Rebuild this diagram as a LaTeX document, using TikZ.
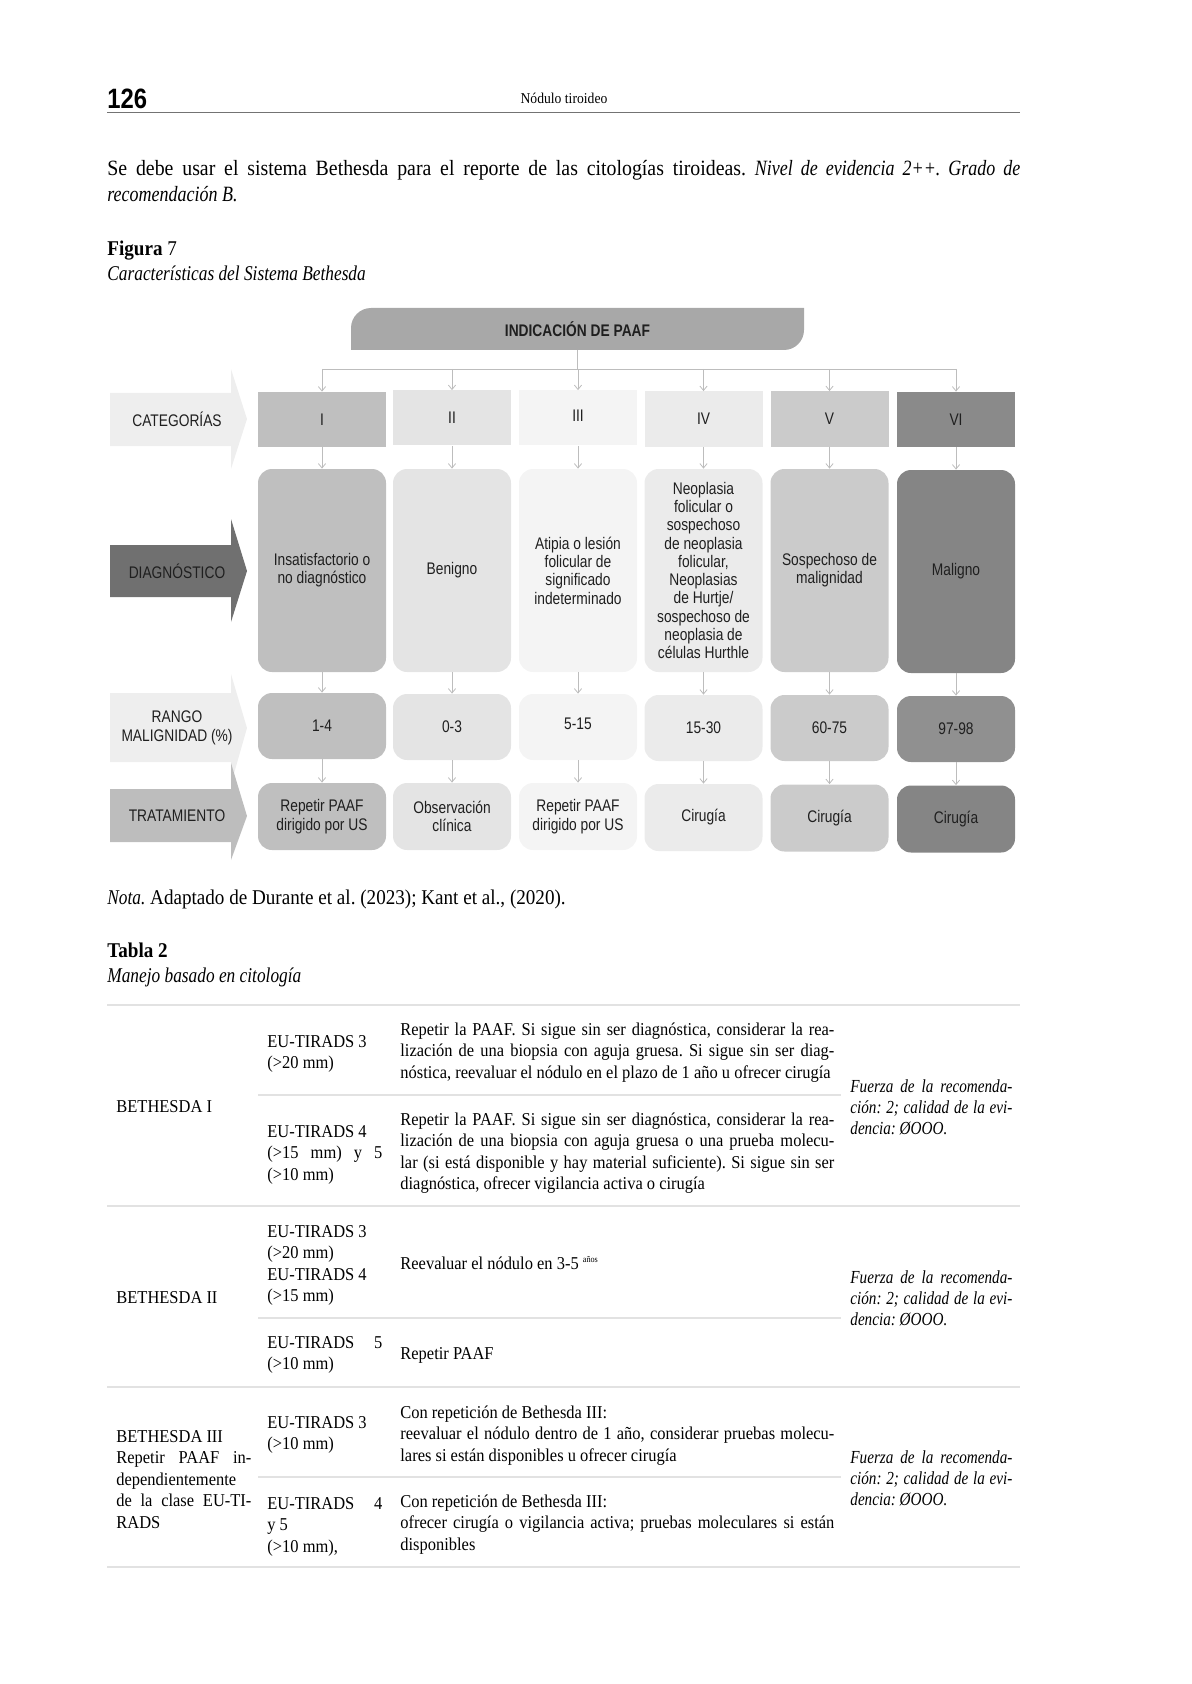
\documentclass[tikz,border=0pt]{standalone}
\usepackage{fontspec}
\setmainfont{Liberation Serif}[UprightFeatures={FakeStretch=0.91}, BoldFeatures={FakeStretch=0.91}, ItalicFeatures={FakeStretch=0.825}]
\newfontfamily\diagfont{Liberation Sans}[FakeStretch=0.82]
\newfontfamily\headfont{Liberation Sans}[FakeStretch=0.85]
\usetikzlibrary{positioning}
\usetikzlibrary{arrows.meta}

\definecolor{paaffill}{HTML}{A8A8A8}
\definecolor{colI}{HTML}{BFBFBF}
\definecolor{colII}{HTML}{E4E4E4}
\definecolor{colIII}{HTML}{F4F4F4}
\definecolor{colIV}{HTML}{EBEBEB}
\definecolor{colV}{HTML}{CBCBCB}
\definecolor{colVI}{HTML}{909090}
\definecolor{lblcat}{HTML}{EEEEEE}
\definecolor{lbldiag}{HTML}{707070}
\definecolor{lblrango}{HTML}{EEEEEE}
\definecolor{lbltrat}{HTML}{BDBDBD}
\definecolor{linegray}{HTML}{BDBDBD}
\definecolor{rulegray}{HTML}{E2E2E2}

\tikzset{
  cell/.style={inner sep=1pt, align=center, text=black!88,
    font=\diagfont\fontsize{8.4}{9.15}\selectfont},
  catbox/.style={cell, minimum height=27.5pt},
  diagbox/.style={cell, rounded corners=7pt, minimum height=101.5pt},
  rangbox/.style={cell, rounded corners=7pt, minimum height=33pt},
  tratbox/.style={cell, rounded corners=7pt, minimum height=33.5pt},
  wideI/.style={minimum width=64pt},
  wide/.style={minimum width=59pt},
  link/.style={draw=linegray, line width=0.4pt},
  conn/.style={link, -{Straight Barb[length=2.2pt,width=3.6pt]}},
  pagetxt/.style={anchor=base west, inner sep=0pt, font=\fontsize{10.5}{13}\selectfont},
  tabtxt/.style={anchor=base west, inner sep=0pt, font=\fontsize{9.05}{10.75}\selectfont},
  tabpar/.style={tabtxt, align=justify},
  evid/.style={tabpar, text width=81pt, font=\itshape\fontsize{9.2}{10.6}\selectfont},
  tabrule/.style={draw=rulegray, line width=0.9pt},
}

\begin{document}
\frenchspacing
\begin{tikzpicture}[x=0.5pt, y=-0.5pt]
    \useasboundingbox (0,0) rectangle (1191,1684);

    % page head
    \node[anchor=base west, inner sep=0pt, font=\headfont\bfseries\fontsize{14}{14}\selectfont] (pnum) at (107,109) {126};
    \node[anchor=base, inner sep=0pt, font=\fontsize{7.5}{8}\selectfont] (runhead) at (564,104) {Nódulo tiroideo};
    \draw[black!55, line width=0.5pt] (107,113) -- (1020,113);

    % text above the figure
    \node[pagetxt, text width=456.5pt, align=justify, font=\fontsize{10.9}{13}\selectfont] (intro) at (107,176)
      {Se debe usar el sistema Bethesda para el reporte de las citologías tiroideas. \textit{Nivel de evidencia 2++. Grado de}\linebreak \textit{recomendación B.}};
    \node[pagetxt] (figlbl) at (107,256) {\textbf{Figura} 7};
    \node[pagetxt] (figcap) at (107,281) {\textit{Características del Sistema Bethesda}};

    % TOP: indicacion de PAAF
    \fill[paaffill] (351,350) -- (351,328) arc[start angle=180, end angle=270, radius=20]
      -- (804,308) -- (804,330) arc[start angle=0, end angle=90, radius=20] -- cycle;
    \node[cell, font=\diagfont\bfseries\fontsize{8.4}{9.15}\selectfont, minimum width=226.5pt, minimum height=21pt] (paaf) at (577.5,329) {INDICACIÓN DE PAAF};

    % row labels (block arrows)
    \fill[lblcat] (110,393) -- (231,393) -- (231,369) -- (247,419) -- (231,469) -- (231,446) -- (110,446) -- cycle;
    \node[cell] (lcat) at (177,419) {CATEGORÍAS};
    \fill[lbldiag] (110,545) -- (231,545) -- (231,519) -- (247,571) -- (231,622) -- (231,597) -- (110,597) -- cycle;
    \node[cell] (ldiag) at (177,571) {DIAGNÓSTICO};
    \fill[lblrango] (110,693) -- (231,693) -- (231,674) -- (247,728) -- (231,784) -- (231,762) -- (110,762) -- cycle;
    \node[cell] (lrango) at (177,728) {RANGO\\MALIGNIDAD (\%)};
    \fill[lbltrat] (110,789) -- (231,789) -- (231,763) -- (247,816) -- (231,860) -- (231,842) -- (110,842) -- cycle;
    \node[cell] (ltrat) at (177,816) {TRATAMIENTO};

    % categories
    \node[catbox, wideI, fill=colI] (c1) at (322,419.5) {I};
    \node[catbox, wide, fill=colII] (c2) at (452,418) {II};
    \node[catbox, wide, fill=colIII] (c3) at (578,418) {\raisebox{2pt}{III}};
    \node[catbox, wide, fill=colIV] (c4) at (703.5,419) {IV};
    \node[catbox, wide, fill=colV] (c5) at (829.5,419) {V};
    \node[catbox, wide, fill=colVI!105] (c6) at (956,419.5) {VI};

    % diagnosis
    \node[diagbox, wideI, fill=colI] (d1) at (322,570.5) {Insatisfactorio o\\no diagnóstico};
    \node[diagbox, wide, fill=colII] (d2) at (452,570.5) {Benigno};
    \node[diagbox, wide, fill=colIII] (d3) at (578,570.5) {Atipia o lesión\\folicular de\\significado\\indeterminado};
    \node[diagbox, wide, fill=colIV] (d4) at (703.5,570.5) {Neoplasia\\folicular o\\sospechoso\\de neoplasia\\folicular,\\Neoplasias\\de Hurtje/\\sospechoso de\\neoplasia de\\células Hurthle};
    \node[diagbox, wide, fill=colV] (d5) at (829.5,570.5) {Sospechoso de\\malignidad};
    \node[diagbox, wide, fill=colVI!110] (d6) at (956,571.5) {Maligno};

    % malignancy range
    \node[rangbox, wideI, fill=colI] (r1) at (322,726) {1-4};
    \node[rangbox, wide, fill=colII] (r2) at (452,727) {0-3};
    \node[rangbox, wide, fill=colIII] (r3) at (578,727) {\raisebox{3pt}{5-15}};
    \node[rangbox, wide, fill=colIV] (r4) at (703.5,728) {15-30};
    \node[rangbox, wide, fill=colV] (r5) at (829.5,728) {60-75};
    \node[rangbox, wide, fill=colVI] (r6) at (956,729) {97-98};

    % treatment
    \node[tratbox, wideI, fill=colI] (t1) at (322,816.5) {Repetir PAAF\\dirigido por US};
    \node[tratbox, wide, fill=colII] (t2) at (452,816.5) {Observación\\clínica};
    \node[tratbox, wide, fill=colIII] (t3) at (578,816.5) {Repetir PAAF\\dirigido por US};
    \node[tratbox, wide, fill=colIV] (t4) at (703.5,817.5) {Cirugía};
    \node[tratbox, wide, fill=colV] (t5) at (829.5,818) {Cirugía};
    \node[tratbox, wide, fill=colVI!110] (t6) at (956,819) {Cirugía};

    % connectors
    \coordinate (split) at (577.5,369);
    \draw[link] (paaf.south) -- (split);
    \draw[link] (c1.north |- split) -- (c6.north |- split);
    \draw[conn] (c1.north |- split) -- (c1.north);
    \draw[conn] (c2.north |- split) -- (c2.north);
    \draw[conn] (c3.north |- split) -- (c3.north);
    \draw[conn] (c4.north |- split) -- (c4.north);
    \draw[conn] (c5.north |- split) -- (c5.north);
    \draw[conn] (c6.north |- split) -- (c6.north);
    \draw[conn] (c1) -- (d1);  \draw[conn] (d1) -- (r1);  \draw[conn] (r1) -- (t1);
    \draw[conn] (c2) -- (d2);  \draw[conn] (d2) -- (r2);  \draw[conn] (r2) -- (t2);
    \draw[conn] (c3) -- (d3);  \draw[conn] (d3) -- (r3);  \draw[conn] (r3) -- (t3);
    \draw[conn] (c4) -- (d4);  \draw[conn] (d4) -- (r4);  \draw[conn] (r4) -- (t4);
    \draw[conn] (c5) -- (d5);  \draw[conn] (d5) -- (r5);  \draw[conn] (r5) -- (t5);
    \draw[conn] (c6) -- (d6);  \draw[conn] (d6) -- (r6);  \draw[conn] (r6) -- (t6);

    % text between figure and table
    \node[pagetxt] (nota) at (107,904) {\textit{Nota.} Adaptado de Durante et al. (2023); Kant et al., (2020).};
    \node[pagetxt] (tablbl) at (107,957) {\textbf{Tabla 2}};
    \node[pagetxt] (tabcap) at (107,982) {\textit{Manejo basado en citología}};

    % TABLE: rules
    \draw[tabrule] (107,1005) -- (1020,1005);
    \draw[tabrule] (258,1095) -- (841,1095);
    \draw[tabrule] (107,1206) -- (1020,1206);
    \draw[tabrule] (258,1318) -- (841,1318);
    \draw[tabrule] (107,1387) -- (1020,1387);
    \draw[tabrule] (258,1477) -- (841,1477);
    \draw[tabrule] (107,1567) -- (1020,1567);

    % Bethesda I
    \node[tabtxt] (bI) at (116,1112) {BETHESDA I};
    \node[tabpar, text width=57.5pt] (eIa) at (267,1047) {EU-TIRADS 3\\(>20 mm)};
    \node[tabpar, text width=217pt] (mIa) at (400,1035)
      {Repetir la PAAF. Si sigue sin ser diagnóstica, considerar la rea-\linebreak lización de una biopsia con aguja gruesa. Si sigue sin ser diag-\linebreak nóstica, reevaluar el nódulo en el plazo de 1 año u ofrecer cirugía};
    \node[tabpar, text width=57.5pt] (eIb) at (267,1137) {EU-TIRADS 4\\(>15 mm) y 5\linebreak (>10 mm)};
    \node[tabpar, text width=217pt] (mIb) at (400,1125)
      {Repetir la PAAF. Si sigue sin ser diagnóstica, considerar la rea-\linebreak lización de una biopsia con aguja gruesa o una prueba molecu-\linebreak lar (si está disponible y hay material suficiente). Si sigue sin ser\linebreak diagnóstica, ofrecer vigilancia activa o cirugía};
    \node[evid] (fI) at (850,1092) {Fuerza de la recomenda-\linebreak ción: 2; calidad de la evi-\linebreak dencia: ØOOO.};

    % Bethesda II
    \node[tabtxt] (bII) at (116,1303) {BETHESDA II};
    \node[tabpar, text width=57.5pt] (eIIa) at (267,1237) {EU-TIRADS 3\\(>20 mm)\\EU-TIRADS 4\\(>15 mm)};
    \node[tabtxt] (mIIa) at (400,1269) {Reevaluar el nódulo en 3-5 \raisebox{3.5pt}{\fontsize{4.5}{5}\selectfont años}};
    \node[tabpar, text width=57.5pt] (eIIb) at (267,1348) {EU-TIRADS 5\linebreak (>10 mm)};
    \node[tabtxt] (mIIb) at (400,1359) {Repetir PAAF};
    \node[evid] (fII) at (850,1283) {Fuerza de la recomenda-\linebreak ción: 2; calidad de la evi-\linebreak dencia: ØOOO.};

    % Bethesda III
    \node[tabpar, text width=67.5pt] (bIII) at (116,1442) {BETHESDA III\\Repetir PAAF in-\linebreak dependientemente\linebreak de la clase EU-TI-\linebreak RADS};
    \node[tabpar, text width=57.5pt] (eIIIa) at (267,1428) {EU-TIRADS 3\\(>10 mm)};
    \node[tabpar, text width=217pt] (mIIIa) at (400,1418)
      {Con repetición de Bethesda III:\\reevaluar el nódulo dentro de 1 año, considerar pruebas molecu-\linebreak lares si están disponibles u ofrecer cirugía};
    \node[tabpar, text width=57.5pt] (eIIIb) at (267,1509) {EU-TIRADS 4\linebreak y 5\\(>10 mm),};
    \node[tabpar, text width=217pt] (mIIIb) at (400,1507)
      {Con repetición de Bethesda III:\\ofrecer cirugía o vigilancia activa; pruebas moleculares si están\linebreak disponibles};
    \node[evid] (fIII) at (850,1463) {Fuerza de la recomenda-\linebreak ción: 2; calidad de la evi-\linebreak dencia: ØOOO.};
\end{tikzpicture}
\end{document}
